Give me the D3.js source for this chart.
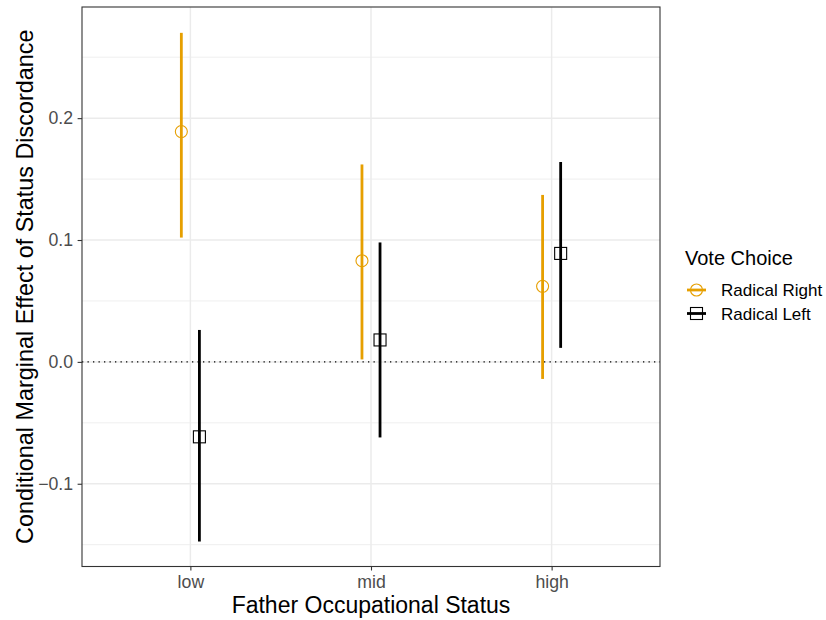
<!DOCTYPE html>
<html>
<head>
<meta charset="utf-8">
<script src="https://cdn.jsdelivr.net/npm/d3@7"></script>
<style>
body{margin:0;background:#fff;}
text{font-family:"Liberation Sans",Arial,Helvetica,sans-serif;}
</style>
</head>
<body>
<svg id="chart" width="826" height="620"></svg>
<script>
const categories = ["low","mid","high"];
const seriesNames = ["Radical Right","Radical Left"];
const rightEst = [0.189, 0.083, 0.062];
const rightLo  = [0.102, 0.002, -0.014];
const rightHi  = [0.270, 0.162, 0.137];
const leftEst  = [-0.0615, 0.018, 0.089];
const leftLo   = [-0.1474, -0.062, 0.0115];
const leftHi   = [0.0262, 0.098, 0.164];
const yTicks = [-0.1, 0.0, 0.1, 0.2];
const yMinor = [-0.15, -0.05, 0.05, 0.15, 0.25];
const colors = ["#E69F00", "#000000"];

const svg = d3.select("#chart");
const L = 82, R = 660, T = 7, B = 566.5;

const x = d3.scaleLinear().domain([0.4, 3.6]).range([L, R]);
const y = d3.scaleLinear().domain([-0.1679, 0.2912]).range([B, T]);

svg.append("rect").attr("x",L).attr("y",T).attr("width",R-L).attr("height",B-T).attr("fill","#fff");

// grid
const g = svg.append("g");
yMinor.forEach(v => g.append("line").attr("x1",L).attr("x2",R).attr("y1",y(v)).attr("y2",y(v)).attr("stroke","#EBEBEB").attr("stroke-width",0.8));
yTicks.forEach(v => g.append("line").attr("x1",L).attr("x2",R).attr("y1",y(v)).attr("y2",y(v)).attr("stroke","#EBEBEB").attr("stroke-width",1.5));
categories.forEach((c,i) => g.append("line").attr("x1",x(i+1)).attr("x2",x(i+1)).attr("y1",T).attr("y2",B).attr("stroke","#EBEBEB").attr("stroke-width",1.5));

// zero line
svg.append("line").attr("x1",L).attr("x2",R).attr("y1",y(0)).attr("y2",y(0))
  .attr("stroke","#000").attr("stroke-width",1.3).attr("stroke-dasharray","1.3,4.2");

// data
const data = [];
categories.forEach((c,i) => {
  data.push({s:0, i, est:rightEst[i], lo:rightLo[i], hi:rightHi[i]});
  data.push({s:1, i, est:leftEst[i], lo:leftLo[i], hi:leftHi[i]});
});
const dodge = s => (s===0 ? -0.05 : 0.05);

svg.append("g").selectAll("line").data(data).join("line")
  .attr("x1", d => x(d.i+1+dodge(d.s))).attr("x2", d => x(d.i+1+dodge(d.s)))
  .attr("y1", d => y(d.lo)).attr("y2", d => y(d.hi))
  .attr("stroke", d => colors[d.s]).attr("stroke-width", 2.8);

svg.append("g").selectAll("circle").data(data.filter(d=>d.s===0)).join("circle")
  .attr("cx", d => x(d.i+1+dodge(d.s))).attr("cy", d => y(d.est)).attr("r", 6)
  .attr("fill","none").attr("stroke",colors[0]).attr("stroke-width",1.1);
svg.append("g").selectAll("rect").data(data.filter(d=>d.s===1)).join("rect")
  .attr("x", d => x(d.i+1+dodge(d.s))-6).attr("y", d => y(d.est)-6).attr("width",12).attr("height",12)
  .attr("fill","none").attr("stroke","#000").attr("stroke-width",1.1);

// panel border
svg.append("rect").attr("x",L).attr("y",T).attr("width",R-L).attr("height",B-T)
  .attr("fill","none").attr("stroke","#333").attr("stroke-width",1.1);

// axes
const xAxis = svg.append("g").attr("transform",`translate(0,${B})`)
  .call(d3.axisBottom(x).tickValues([1,2,3]).tickFormat(d => categories[d-1]).tickSize(4).tickPadding(4));
const yAxis = svg.append("g").attr("transform",`translate(${L},0)`)
  .call(d3.axisLeft(y).tickValues(yTicks).tickFormat(d => d===0 ? "0.0" : d3.format(".1f")(d).replace("-","\u2212")).tickSize(4.4).tickPadding(4.5));
[xAxis,yAxis].forEach(a => {
  a.select(".domain").remove();
  a.selectAll(".tick line").attr("stroke","#333").attr("stroke-width",1.1);
  a.selectAll(".tick text").attr("fill","#4D4D4D").attr("font-size","17.7px");
});
xAxis.selectAll(".tick text").attr("dy",null).attr("y", 588 - B);

// titles
svg.append("text").attr("x",(L+R)/2).attr("y",613).attr("text-anchor","middle")
  .attr("font-size","23px").attr("fill","#000").text("Father Occupational Status");
svg.append("text").attr("transform",`translate(33,${(T+B)/2}) rotate(-90)`).attr("text-anchor","middle")
  .attr("font-size","23.4px").attr("fill","#000").text("Conditional Marginal Effect of Status Discordance");

// legend
const lg = svg.append("g");
lg.append("text").attr("x",685).attr("y",264.5).attr("font-size","20px").attr("fill","#000").text("Vote Choice");
seriesNames.forEach((n,k) => {
  const cy = 290 + k*23.5;
  lg.append("line").attr("x1",687).attr("x2",706).attr("y1",cy).attr("y2",cy).attr("stroke",colors[k]).attr("stroke-width",2.8);
  if (k===0) lg.append("circle").attr("cx",696.5).attr("cy",cy).attr("r",6).attr("fill","none").attr("stroke",colors[0]).attr("stroke-width",1.1);
  else lg.append("rect").attr("x",690.5).attr("y",cy-6).attr("width",12).attr("height",12).attr("fill","none").attr("stroke","#000").attr("stroke-width",1.1);
  lg.append("text").attr("x",721).attr("y",cy+6).attr("font-size","17px").attr("fill","#000").text(n);
});
</script>
</body>
</html>
